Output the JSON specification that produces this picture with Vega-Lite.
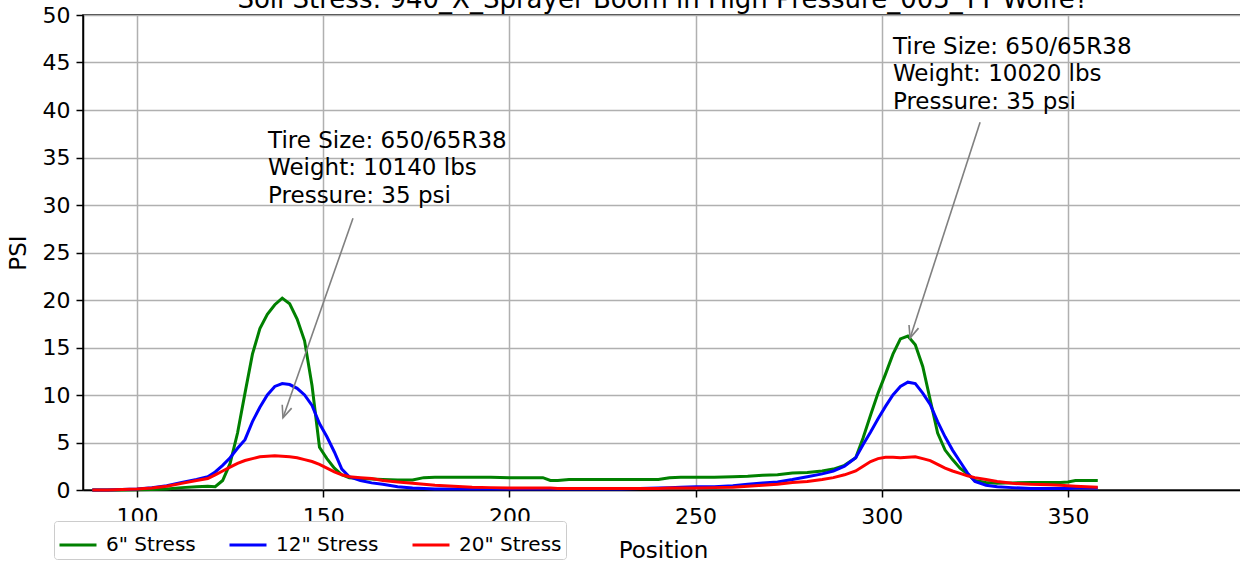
{
  "$schema": "https://vega.github.io/schema/vega-lite/v6.json",
  "width": 1160,
  "height": 475,
  "autosize": {"type": "none"},
  "padding": {"left": 83, "top": 15, "right": 0, "bottom": 80},
  "background": "white",
  "title": {
    "text": "Soil Stress: 940_X_Sprayer Boom in High Pressure_005_TT Wolfe?",
    "font": "DejaVu Sans",
    "fontSize": 26,
    "fontWeight": "normal",
    "color": "black",
    "anchor": "middle",
    "baseline": "alphabetic",
    "offset": -30
  },
  "config": {
    "font": "DejaVu Sans",
    "view": {"stroke": "black", "strokeWidth": 1.5},
    "axis": {
      "labelFont": "DejaVu Sans",
      "labelFontSize": 22,
      "labelColor": "black",
      "titleFont": "DejaVu Sans",
      "titleFontSize": 23,
      "titleFontWeight": "normal",
      "titleColor": "black",
      "domainColor": "black",
      "domainWidth": 1.5,
      "tickColor": "black",
      "tickWidth": 1.5,
      "tickSize": 7,
      "gridColor": "#b0b0b0",
      "gridWidth": 1.5,
      "gridOpacity": 1
    }
  },
  "layer": [
    {
      "data": {
        "values": [
          {"Position": 88, "s1": 0, "s2": 0, "s3": 0},
          {"Position": 92, "s1": 0, "s2": 0, "s3": 0},
          {"Position": 96, "s1": 0, "s2": 0.05, "s3": 0.05},
          {"Position": 100, "s1": 0.02, "s2": 0.1, "s3": 0.1},
          {"Position": 104, "s1": 0.05, "s2": 0.25, "s3": 0.2},
          {"Position": 108, "s1": 0.1, "s2": 0.45, "s3": 0.4},
          {"Position": 112, "s1": 0.25, "s2": 0.8, "s3": 0.7},
          {"Position": 116, "s1": 0.35, "s2": 1.1, "s3": 1.0},
          {"Position": 119, "s1": 0.4, "s2": 1.4, "s3": 1.2},
          {"Position": 121, "s1": 0.35, "s2": 1.9, "s3": 1.6},
          {"Position": 123, "s1": 1.0, "s2": 2.6, "s3": 2.0},
          {"Position": 125, "s1": 2.8, "s2": 3.4, "s3": 2.4},
          {"Position": 127, "s1": 6.0, "s2": 4.4, "s3": 2.8},
          {"Position": 129, "s1": 10.2, "s2": 5.3, "s3": 3.1},
          {"Position": 131, "s1": 14.3, "s2": 7.2, "s3": 3.3},
          {"Position": 133, "s1": 17.0, "s2": 8.7, "s3": 3.5},
          {"Position": 135, "s1": 18.5, "s2": 10.0, "s3": 3.55},
          {"Position": 137, "s1": 19.5, "s2": 10.9, "s3": 3.6},
          {"Position": 139, "s1": 20.2, "s2": 11.2, "s3": 3.55},
          {"Position": 141, "s1": 19.6, "s2": 11.1, "s3": 3.5},
          {"Position": 143, "s1": 18.0, "s2": 10.7, "s3": 3.4},
          {"Position": 145, "s1": 15.7, "s2": 10.0, "s3": 3.2},
          {"Position": 147, "s1": 11.0, "s2": 8.9, "s3": 3.0},
          {"Position": 149, "s1": 4.5, "s2": 7.0, "s3": 2.7},
          {"Position": 151, "s1": 3.3, "s2": 5.6, "s3": 2.3},
          {"Position": 153, "s1": 2.3, "s2": 4.0, "s3": 1.9},
          {"Position": 155, "s1": 1.6, "s2": 2.2, "s3": 1.6},
          {"Position": 157, "s1": 1.3, "s2": 1.4, "s3": 1.4},
          {"Position": 160, "s1": 1.2, "s2": 1.0, "s3": 1.3},
          {"Position": 163, "s1": 1.15, "s2": 0.75, "s3": 1.2},
          {"Position": 166, "s1": 1.1, "s2": 0.6, "s3": 1.0},
          {"Position": 170, "s1": 1.05, "s2": 0.35, "s3": 0.85},
          {"Position": 174, "s1": 1.05, "s2": 0.2, "s3": 0.7},
          {"Position": 177, "s1": 1.3, "s2": 0.15, "s3": 0.6},
          {"Position": 180, "s1": 1.35, "s2": 0.1, "s3": 0.5},
          {"Position": 185, "s1": 1.35, "s2": 0.1, "s3": 0.4},
          {"Position": 190, "s1": 1.35, "s2": 0.1, "s3": 0.3},
          {"Position": 195, "s1": 1.35, "s2": 0.1, "s3": 0.25},
          {"Position": 200, "s1": 1.3, "s2": 0.1, "s3": 0.2},
          {"Position": 205, "s1": 1.3, "s2": 0.1, "s3": 0.2},
          {"Position": 209, "s1": 1.3, "s2": 0.1, "s3": 0.2},
          {"Position": 211, "s1": 1.0, "s2": 0.1, "s3": 0.2},
          {"Position": 213, "s1": 1.0, "s2": 0.1, "s3": 0.15},
          {"Position": 216, "s1": 1.1, "s2": 0.1, "s3": 0.15},
          {"Position": 220, "s1": 1.1, "s2": 0.1, "s3": 0.15},
          {"Position": 225, "s1": 1.1, "s2": 0.1, "s3": 0.15},
          {"Position": 230, "s1": 1.1, "s2": 0.1, "s3": 0.15},
          {"Position": 235, "s1": 1.1, "s2": 0.15, "s3": 0.15},
          {"Position": 240, "s1": 1.1, "s2": 0.2, "s3": 0.15},
          {"Position": 243, "s1": 1.3, "s2": 0.25, "s3": 0.2},
          {"Position": 246, "s1": 1.35, "s2": 0.3, "s3": 0.2},
          {"Position": 250, "s1": 1.35, "s2": 0.35, "s3": 0.2},
          {"Position": 255, "s1": 1.35, "s2": 0.35, "s3": 0.25},
          {"Position": 260, "s1": 1.4, "s2": 0.45, "s3": 0.3},
          {"Position": 264, "s1": 1.45, "s2": 0.6, "s3": 0.4},
          {"Position": 268, "s1": 1.55, "s2": 0.75, "s3": 0.5},
          {"Position": 272, "s1": 1.6, "s2": 0.85, "s3": 0.6},
          {"Position": 276, "s1": 1.8, "s2": 1.1, "s3": 0.8},
          {"Position": 280, "s1": 1.85, "s2": 1.4, "s3": 0.9},
          {"Position": 284, "s1": 2.0, "s2": 1.7, "s3": 1.1},
          {"Position": 287, "s1": 2.2, "s2": 2.0, "s3": 1.3},
          {"Position": 290, "s1": 2.6, "s2": 2.5, "s3": 1.6},
          {"Position": 293, "s1": 3.4, "s2": 3.4, "s3": 2.0},
          {"Position": 295, "s1": 5.5, "s2": 4.8, "s3": 2.5},
          {"Position": 297, "s1": 7.9, "s2": 6.1, "s3": 3.0},
          {"Position": 299, "s1": 10.2, "s2": 7.5, "s3": 3.3},
          {"Position": 301, "s1": 12.2, "s2": 8.8, "s3": 3.45},
          {"Position": 303, "s1": 14.3, "s2": 10.0, "s3": 3.45},
          {"Position": 305, "s1": 15.9, "s2": 10.9, "s3": 3.4},
          {"Position": 307, "s1": 16.2, "s2": 11.35, "s3": 3.45},
          {"Position": 309, "s1": 15.3, "s2": 11.2, "s3": 3.5},
          {"Position": 311, "s1": 13.0, "s2": 10.2, "s3": 3.3},
          {"Position": 313, "s1": 9.5, "s2": 9.0, "s3": 3.1},
          {"Position": 315, "s1": 6.0, "s2": 7.2, "s3": 2.7},
          {"Position": 317, "s1": 4.2, "s2": 5.6, "s3": 2.3},
          {"Position": 319, "s1": 3.2, "s2": 4.2, "s3": 2.0},
          {"Position": 321, "s1": 2.3, "s2": 3.0, "s3": 1.75},
          {"Position": 323, "s1": 1.7, "s2": 1.8, "s3": 1.5},
          {"Position": 325, "s1": 1.0, "s2": 0.9, "s3": 1.3},
          {"Position": 328, "s1": 0.8, "s2": 0.5, "s3": 1.1},
          {"Position": 331, "s1": 0.7, "s2": 0.35, "s3": 0.9},
          {"Position": 335, "s1": 0.75, "s2": 0.25, "s3": 0.7},
          {"Position": 340, "s1": 0.8, "s2": 0.15, "s3": 0.6},
          {"Position": 345, "s1": 0.8, "s2": 0.15, "s3": 0.55},
          {"Position": 348, "s1": 0.8, "s2": 0.15, "s3": 0.5},
          {"Position": 350, "s1": 0.85, "s2": 0.15, "s3": 0.45},
          {"Position": 352, "s1": 1.0, "s2": 0.2, "s3": 0.4},
          {"Position": 355, "s1": 1.0, "s2": 0.2, "s3": 0.35},
          {"Position": 358, "s1": 1.0, "s2": 0.2, "s3": 0.3}
        ]
      },
      "transform": [{"fold": ["s1", "s2", "s3"], "as": ["Series", "PSI"]}],
      "mark": {"type": "line", "strokeWidth": 3},
      "encoding": {
        "x": {
          "field": "Position",
          "type": "quantitative",
          "scale": {"domain": [85.5, 397], "nice": false, "zero": false},
          "axis": {"values": [100, 150, 200, 250, 300, 350], "title": "Position", "labelPadding": 9, "titlePadding": 12, "grid": true}
        },
        "y": {
          "field": "PSI",
          "type": "quantitative",
          "scale": {"domain": [0, 50], "nice": false},
          "axis": {"values": [0, 5, 10, 15, 20, 25, 30, 35, 40, 45, 50], "title": "PSI", "labelPadding": 6, "titlePadding": 12, "grid": true}
        },
        "color": {
          "field": "Series",
          "type": "nominal",
          "scale": {"domain": ["s1", "s2", "s3"], "range": ["#008000", "#0000ff", "#ff0000"]},
          "legend": {
            "orient": "none",
            "legendX": -29,
            "legendY": 506,
            "direction": "horizontal",
            "title": null,
            "symbolType": "M-1,0L1,0",
            "symbolSize": 1369,
            "symbolStrokeWidth": 3,
            "labelFont": "DejaVu Sans",
            "labelFontSize": 20,
            "labelColor": "black",
            "labelOffset": 8,
            "columnPadding": 27,
            "strokeColor": "#cccccc",
            "fillColor": "white",
            "padding": 4,
            "cornerRadius": 3,
            "labelExpr": "datum.label == 's1' ? '6\" Stress' : datum.label == 's2' ? '12\" Stress' : '20\" Stress'"
          }
        }
      }
    },
    {
      "data": {
        "values": [
          {"x": 135.2, "y": 37.9, "label": "Tire Size: 650/65R38\nWeight: 10140 lbs\nPressure: 35 psi"},
          {"x": 303.0, "y": 47.8, "label": "Tire Size: 650/65R38\nWeight: 10020 lbs\nPressure: 35 psi"}
        ]
      },
      "mark": {"type": "text", "align": "left", "baseline": "top", "font": "DejaVu Sans", "fontSize": 23, "lineBreak": "\n", "lineHeight": 27.5, "color": "black"},
      "encoding": {
        "x": {"field": "x", "type": "quantitative"},
        "y": {"field": "y", "type": "quantitative"},
        "text": {"field": "label", "type": "nominal"}
      }
    },
    {
      "data": {
        "values": [
          {"x": 158.0, "y": 28.6, "x2": 139.2, "y2": 7.6, "angle": 199.3},
          {"x": 326.4, "y": 38.7, "x2": 307.6, "y2": 16.0, "angle": 197.9}
        ]
      },
      "mark": {"type": "rule", "color": "#808080", "strokeWidth": 1.6},
      "encoding": {
        "x": {"field": "x", "type": "quantitative"},
        "y": {"field": "y", "type": "quantitative"},
        "x2": {"field": "x2"},
        "y2": {"field": "y2"}
      }
    },
    {
      "data": {
        "values": [
          {"x": 139.2, "y": 7.6, "angle": 199.3},
          {"x": 307.6, "y": 16.0, "angle": 197.9}
        ]
      },
      "mark": {"type": "point", "shape": "M-0.5,1.2L0,0L0.5,1.2", "filled": false, "size": 400, "stroke": "#808080", "strokeWidth": 1.6, "opacity": 1},
      "encoding": {
        "x": {"field": "x", "type": "quantitative"},
        "y": {"field": "y", "type": "quantitative"},
        "angle": {"field": "angle", "type": "quantitative", "scale": null}
      }
    }
  ]
}
